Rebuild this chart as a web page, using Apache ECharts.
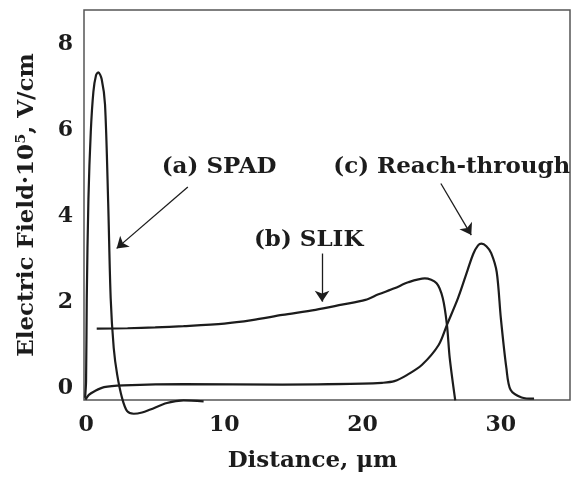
<!DOCTYPE html>
<html>
<head>
<meta charset="utf-8">
<script src="https://cdn.jsdelivr.net/npm/echarts@6/dist/echarts.min.js"></script>
<style>
  html, body { margin: 0; padding: 0; background: #fff; }
  #chart { width: 583px; height: 478px; }
</style>
</head>
<body>
<div id="chart"></div>
<script>
// 读图得到的数据 (x: μm, y: 10^5 V/cm)
var spadX = [-0.07, 0, 0.05, 0.17, 0.34, 0.53, 0.72, 0.88, 1.13, 1.37, 1.6, 1.78, 2.0, 2.25, 2.6, 2.97, 3.45, 4.05, 4.65, 5.85, 7.05, 8.5];
var spadY = [-0.23, 0.16, 2.09, 4.4, 5.96, 6.9, 7.28, 7.35, 7.19, 6.6, 4.3, 2.09, 0.93, 0.31, -0.23, -0.54, -0.6, -0.57, -0.5, -0.35, -0.29, -0.31];

var slikX = [0.77, 3, 5, 7.05, 10, 12, 14.2, 16.6, 18.5, 20.2, 21.15, 22.3, 23.3, 24.5, 25.35, 25.8, 26.1, 26.3, 26.7];
var slikY = [1.38, 1.39, 1.41, 1.44, 1.5, 1.58, 1.7, 1.82, 1.94, 2.05, 2.18, 2.32, 2.46, 2.55, 2.44, 2.09, 1.47, 0.7, -0.29];

var rtX = [-0.05, 0.2, 0.58, 1.3, 2.7, 7.05, 14.2, 20, 21.4, 22.3, 23.2, 24.3, 25.5, 26.1, 26.9, 27.6, 28.0, 28.35, 28.6, 28.95, 29.3, 29.7, 30.0, 30.4, 30.7, 31.5, 32.4];
var rtY = [-0.27, -0.16, -0.08, 0.02, 0.06, 0.09, 0.08, 0.1, 0.12, 0.16, 0.3, 0.54, 1.0, 1.47, 2.09, 2.75, 3.12, 3.32, 3.36, 3.3, 3.14, 2.7, 1.62, 0.46, -0.04, -0.22, -0.25];

var xTicks = [0, 10, 20, 30];
var yTicks = [0, 2, 4, 6, 8];

// 标注文字与箭头 (数据坐标)
var labelText = ['(a) SPAD', '(b) SLIK', '(c) Reach-through'];
var labelPos = [[9.62, 5.15], [16.1, 3.44], [26.45, 5.15]];
var arrowFrom = [[7.36, 4.68], [17.07, 3.13], [25.66, 4.76]];
var arrowTo = [[2.21, 3.25], [17.07, 2.01], [27.86, 3.56]];

function zip(xs, ys) {
  return xs.map(function (v, i) { return [v, ys[i]]; });
}

var font = 'DejaVu Serif';
var ink = '#1c1c1c';

function makeSeries(name, data, idx) {
  return {
    name: name,
    type: 'line',
    data: data,
    smooth: 0.3,
    symbol: 'none',
    clip: false,
    lineStyle: { color: ink, width: 2.2 },
    markPoint: {
      symbol: 'circle',
      symbolSize: 1,
      itemStyle: { color: 'rgba(0,0,0,0)' },
      label: {
        show: true,
        position: 'inside',
        formatter: labelText[idx],
        fontFamily: font,
        fontWeight: 'bold',
        fontSize: 23,
        color: ink
      },
      data: [{ coord: labelPos[idx] }]
    },
    markLine: {
      silent: true,
      symbol: ['none', 'arrow'],
      symbolSize: 11,
      label: { show: false },
      lineStyle: { color: ink, width: 1.3, type: 'solid' },
      data: [[{ coord: arrowFrom[idx] }, { coord: arrowTo[idx] }]]
    }
  };
}

var chart = echarts.init(document.getElementById('chart'));
chart.setOption({
  animation: false,
  backgroundColor: '#fff',
  grid: {
    left: 84, right: 13, top: 10, bottom: 76,
    show: true,
    borderColor: '#555',
    borderWidth: 1.5
  },
  xAxis: {
    type: 'value',
    min: -0.15,
    max: 35,
    name: 'Distance, μm',
    nameLocation: 'middle',
    nameGap: 50,
    nameTextStyle: { fontFamily: font, fontWeight: 'bold', fontSize: 23, color: ink, padding: [0, 29, 0, 0] },
    axisLine: { show: false },
    axisTick: { show: false },
    splitLine: { show: false },
    axisLabel: {
      customValues: xTicks,
      margin: 14,
      fontFamily: font, fontWeight: 'bold', fontSize: 22, color: ink
    }
  },
  yAxis: {
    type: 'value',
    min: -0.28,
    max: 8.8,
    name: 'Electric Field·10⁵, V/cm',
    nameLocation: 'middle',
    nameGap: 45,
    nameTextStyle: { fontFamily: font, fontWeight: 'bold', fontSize: 23, color: ink },
    axisLine: { show: false },
    axisTick: { show: false },
    splitLine: { show: false },
    axisLabel: {
      customValues: yTicks,
      margin: 11,
      fontFamily: font, fontWeight: 'bold', fontSize: 22, color: ink
    }
  },
  series: [
    makeSeries('SPAD', zip(spadX, spadY), 0),
    makeSeries('SLIK', zip(slikX, slikY), 1),
    makeSeries('Reach-through', zip(rtX, rtY), 2)
  ]
});
</script>
</body>
</html>
